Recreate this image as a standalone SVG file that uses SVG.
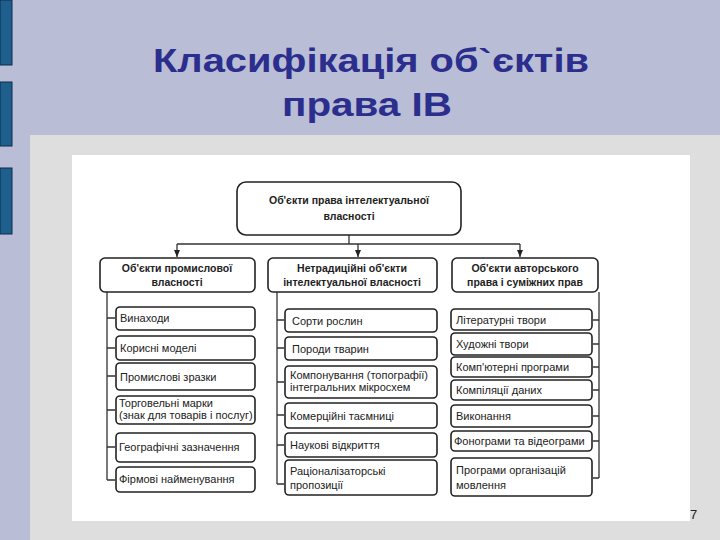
<svg xmlns="http://www.w3.org/2000/svg" width="720" height="540" viewBox="0 0 720 540">
<defs>
<marker id="ar" markerWidth="8" markerHeight="8" refX="7" refY="4" orient="auto" markerUnits="userSpaceOnUse"><path d="M0,1 L7,4 L0,7 Z" fill="#222"/></marker>
<style>
.b{fill:#fff;stroke:#222;stroke-width:1.6}
.t{font-family:"Liberation Sans",Arial,sans-serif;font-size:11px;fill:#222}
.h{font-family:"Liberation Sans",Arial,sans-serif;font-size:10.5px;font-weight:bold;fill:#222;text-anchor:middle}
.c{fill:none;stroke:#333;stroke-width:1.3}
.ti{font-family:"Liberation Sans",Arial,sans-serif;font-size:33px;font-weight:bold;fill:#2b2e8c}
</style>
</defs>
<rect width="720" height="540" fill="#b9bdd5"/>
<rect x="0" y="0" width="12" height="65" fill="#1e5f8e" stroke="#0c2d4a"/>
<rect x="0" y="82" width="12" height="64" fill="#1e5f8e" stroke="#0c2d4a"/>
<rect x="0" y="168" width="12" height="66" fill="#1e5f8e" stroke="#0c2d4a"/>
<rect x="30" y="135" width="690" height="405" fill="#dedede"/>
<rect x="72" y="155" width="618" height="366" fill="#fff"/>
<text class="ti" x="153" y="72" textLength="436" lengthAdjust="spacingAndGlyphs">Класифікація об`єктів</text>
<text class="ti" x="282" y="116" textLength="170" lengthAdjust="spacingAndGlyphs">права ІВ</text>
<g id="connectors">
<path class="c" d="M349,235 V244 M177,244 H520"/>
<path class="c" d="M177,244 V257" marker-end="url(#ar)"/>
<path class="c" d="M358,244 V257" marker-end="url(#ar)"/>
<path class="c" d="M520,244 V257" marker-end="url(#ar)"/>
<path class="c" d="M107,292 V480 M277,292 V484 M599,292 V478"/>
<path class="c" d="M107,318 H115 M107,348 H115 M107,376 H115 M107,410 H115 M107,447 H115 M107,480 H115"/>
<path class="c" d="M277,320 H284 M277,348 H284 M277,382 H284 M277,415 H284 M277,445 H284 M277,484 H284"/>
<path class="c" d="M599,320 H593 M599,344 H593 M599,367 H593 M599,390 H593 M599,416 H593 M599,441 H593 M599,478 H593"/>
</g>
<g id="root"><rect class="b" x="237" y="182" width="224" height="53" rx="9"/><text class="h" x="349" y="204">Об'єкти права інтелектуальної</text><text class="h" x="349" y="220">власності</text></g>
<g id="n1"><rect class="b" x="100" y="258" width="155" height="34" rx="5"/><text class="h" x="177" y="272">Об'єкти промислової</text><text class="h" x="177" y="286">власності</text></g>
<g id="n2"><rect class="b" x="268" y="258" width="169" height="34" rx="5"/><text class="h" x="352" y="272">Нетрадиційні об'єкти</text><text class="h" x="352" y="286">інтелектуальної власності</text></g>
<g id="n3"><rect class="b" x="452" y="258" width="146" height="34" rx="5"/><text class="h" x="525" y="272">Об'єкти авторського</text><text class="h" x="525" y="286">права і суміжних прав</text></g>
<g id="a1"><rect class="b" x="116" y="307" width="139" height="23" rx="4"/><text class="t" x="120" y="322">Винаходи</text></g>
<g id="a2"><rect class="b" x="116" y="336" width="139" height="24" rx="4"/><text class="t" x="120" y="352">Корисні моделі</text></g>
<g id="a3"><rect class="b" x="116" y="363" width="139" height="27" rx="4"/><text class="t" x="120" y="381" font-size="12">Промислові зразки</text></g>
<g id="a4"><rect class="b" x="116" y="396" width="139" height="28" rx="4"/><text class="t" x="119" y="407" font-size="9">Торговельні марки</text><text class="t" x="119" y="419" font-size="9">(знак для товарів і послуг)</text></g>
<g id="a5"><rect class="b" x="116" y="433" width="139" height="29" rx="4"/><text class="t" x="119" y="451" font-size="10">Географічні зазначення</text></g>
<g id="a6"><rect class="b" x="116" y="467" width="139" height="25" rx="4"/><text class="t" x="119" y="483" font-size="10">Фірмові найменування</text></g>
<g id="b1"><rect class="b" x="285" y="309" width="152" height="23" rx="4"/><text class="t" x="292" y="325" font-size="12">Сорти рослин</text></g>
<g id="b2"><rect class="b" x="285" y="337" width="152" height="23" rx="4"/><text class="t" x="292" y="353" font-size="12">Породи тварин</text></g>
<g id="b3"><rect class="b" x="285" y="366" width="152" height="32" rx="4"/><text class="t" x="290" y="379" font-size="8.5">Компонування (топографії)</text><text class="t" x="290" y="391" font-size="8.5">інтегральних мікросхем</text></g>
<g id="b4"><rect class="b" x="285" y="403" width="152" height="25" rx="4"/><text class="t" x="290" y="420" font-size="12">Комерційні таємниці</text></g>
<g id="b5"><rect class="b" x="285" y="433" width="152" height="24" rx="4"/><text class="t" x="290" y="449" font-size="12">Наукові відкриття</text></g>
<g id="b6"><rect class="b" x="285" y="460" width="152" height="35" rx="4"/><text class="t" x="290" y="475" font-size="12">Раціоналізаторські</text><text class="t" x="290" y="489" font-size="12">пропозиції</text></g>
<g id="c1"><rect class="b" x="451" y="309" width="141" height="21" rx="4"/><text class="t" x="456" y="324">Літературні твори</text></g>
<g id="c2"><rect class="b" x="451" y="333" width="141" height="22" rx="4"/><text class="t" x="456" y="348">Художні твори</text></g>
<g id="c3"><rect class="b" x="451" y="357" width="141" height="20" rx="4"/><text class="t" x="456" y="371">Комп'ютерні програми</text></g>
<g id="c4"><rect class="b" x="451" y="380" width="141" height="20" rx="4"/><text class="t" x="456" y="394">Компіляції даних</text></g>
<g id="c5"><rect class="b" x="451" y="405" width="141" height="22" rx="4"/><text class="t" x="456" y="420">Виконання</text></g>
<g id="c6"><rect class="b" x="451" y="431" width="141" height="20" rx="4"/><text class="t" x="454" y="445" font-size="9.5">Фонограми та відеограми</text></g>
<g id="c7"><rect class="b" x="451" y="458" width="141" height="38" rx="4"/><text class="t" x="456" y="474" font-size="12">Програми організацій</text><text class="t" x="456" y="489" font-size="12">мовлення</text></g>
<text x="690" y="519" font-family="Liberation Sans,Arial,sans-serif" font-size="13" fill="#222">7</text>
</svg>
